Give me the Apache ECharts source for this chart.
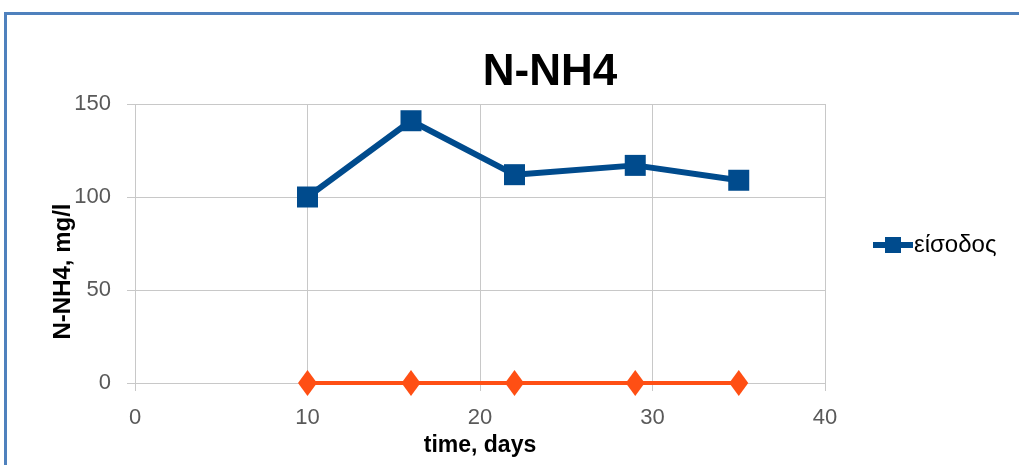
<!DOCTYPE html>
<html><head><meta charset="utf-8">
<script src="https://cdn.jsdelivr.net/npm/echarts@6/dist/echarts.min.js"></script>
<style>html,body{margin:0;padding:0;background:#fff}#c{width:1019px;height:465px}</style>
</head><body><div id="c"></div>
<script>
const days = [10, 16, 22, 29, 35];
const inletValues = [100, 141, 112, 117, 109];
const outletValues = [0, 0, 0, 0, 0];
const inletName = 'είσοδος';
const outletName = 'έξοδος';
const xTicks = [0, 10, 20, 30, 40];
const yTicks = [0, 50, 100, 150];

const font = 'Liberation Sans Narrow, Liberation Sans, sans-serif';
const chart = echarts.init(document.getElementById('c'), null, {renderer: 'canvas'});
chart.setOption({
  animation: false,
  backgroundColor: '#fff',
  graphic: [{
    type: 'rect', shape: {x: 5.5, y: 13.5, width: 1100, height: 600},
    style: {fill: 'none', stroke: '#4f81bd', lineWidth: 3}, silent: true
  }],
  title: {
    text: 'N-NH4', left: 545, top: 46, textAlign: 'center',
    textStyle: {fontFamily: font, fontSize: 44, fontWeight: 'bold', color: '#000'}
  },
  legend: {
    data: [inletName], left: 870, top: 233, orient: 'vertical', padding: 0,
    itemWidth: 40, itemHeight: 20,
    lineStyle: {width: 6},
    textStyle: {fontFamily: font, fontSize: 24, color: '#000', padding: [0, 0, 0, -4]}
  },
  grid: {left: 135, right: 194, top: 104, bottom: 82},
  xAxis: {
    type: 'value', min: xTicks[0], max: xTicks[xTicks.length - 1], interval: 10,
    name: 'time, days', nameLocation: 'middle', nameGap: 51, nameMoveOverlap: false,
    nameTextStyle: {fontFamily: font, fontSize: 23, fontWeight: 'bold', color: '#000'},
    axisLine: {show: false},
    axisTick: {show: true, length: 8, lineStyle: {color: '#c8c8c8'}},
    axisLabel: {fontFamily: font, fontSize: 22, color: '#595959', margin: 24},
    splitLine: {show: true, lineStyle: {color: '#c8c8c8', width: 1}}
  },
  yAxis: {
    type: 'value', min: yTicks[0], max: yTicks[yTicks.length - 1], interval: 50,
    name: 'N-NH4, mg/l', nameLocation: 'middle', nameGap: 60, nameRotate: 90, nameMoveOverlap: false,
    nameTextStyle: {fontFamily: font, fontSize: 24, fontWeight: 'bold', color: '#000', padding: [0, 56, 0, 0]},
    axisLine: {show: false},
    axisTick: {show: true, length: 8, lineStyle: {color: '#c8c8c8'}},
    axisLabel: {fontFamily: font, fontSize: 22, color: '#595959', margin: 24},
    splitLine: {show: true, lineStyle: {color: '#c8c8c8', width: 1}}
  },
  series: [{
    name: inletName, type: 'line',
    data: days.map((d, i) => [d, inletValues[i]]),
    symbol: 'rect', symbolSize: 21,
    lineStyle: {color: '#004b8d', width: 6},
    itemStyle: {color: '#004b8d'}, z: 3
  }, {
    name: outletName, type: 'line',
    data: days.map((d, i) => [d, outletValues[i]]),
    symbol: 'diamond', symbolSize: [19, 26],
    lineStyle: {color: '#ff4f14', width: 4},
    itemStyle: {color: '#ff4f14'}, z: 2
  }]
});
</script></body></html>
